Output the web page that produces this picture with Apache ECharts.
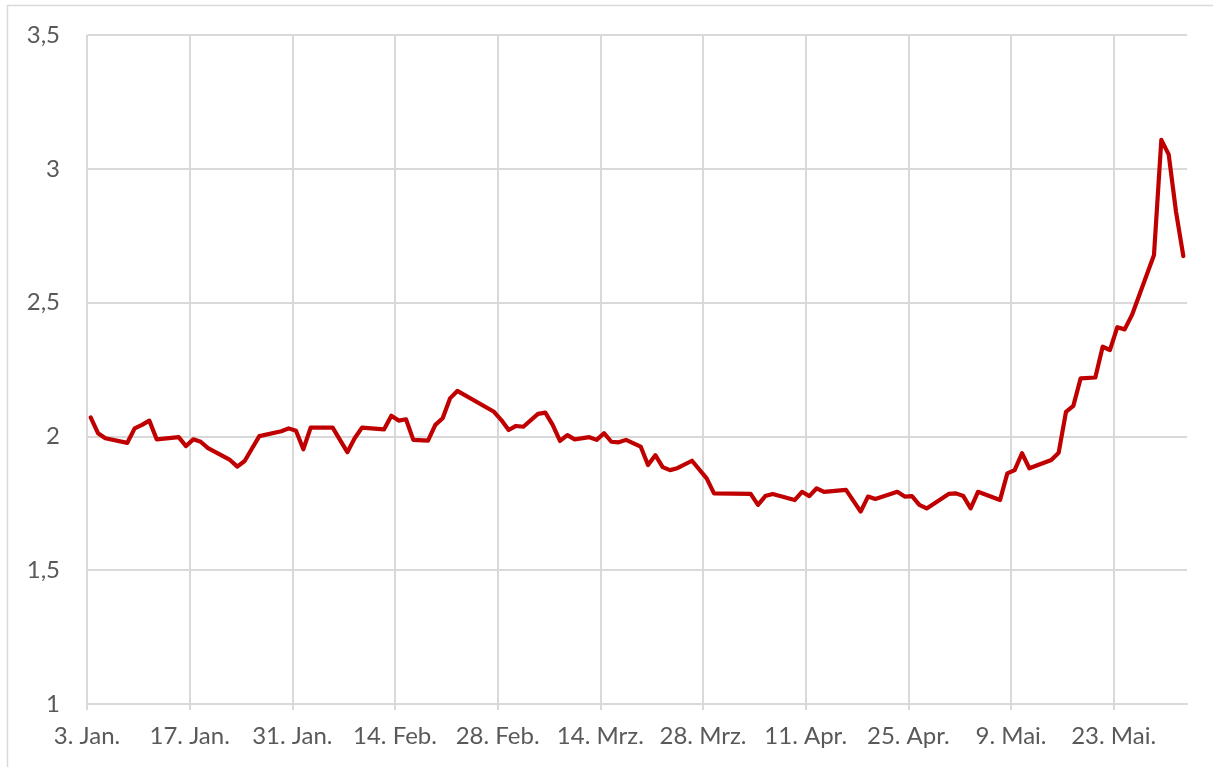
<!DOCTYPE html>
<html>
<head>
<meta charset="utf-8">
<script src="https://cdn.jsdelivr.net/npm/echarts@6/dist/echarts.min.js"></script>
<style>
html,body{margin:0;padding:0;background:#fff;}
#chart{width:1213px;height:767px;}
</style>
</head>
<body>
<div id="chart"></div>
<script>
// Dates (2018) of the data points
const dates = [
 '2018-01-03','2018-01-04','2018-01-05','2018-01-08','2018-01-09','2018-01-10','2018-01-11','2018-01-12',
 '2018-01-15','2018-01-16','2018-01-17','2018-01-18','2018-01-19','2018-01-22','2018-01-23','2018-01-24',
 '2018-01-25','2018-01-26','2018-01-29','2018-01-30','2018-01-31','2018-02-01','2018-02-02','2018-02-05',
 '2018-02-06','2018-02-07','2018-02-08','2018-02-09','2018-02-12','2018-02-13','2018-02-14','2018-02-15',
 '2018-02-16','2018-02-18','2018-02-19','2018-02-20','2018-02-21','2018-02-22','2018-02-27','2018-02-28',
 '2018-03-01','2018-03-02','2018-03-03','2018-03-05','2018-03-06','2018-03-07','2018-03-08','2018-03-09',
 '2018-03-10','2018-03-12','2018-03-13','2018-03-14','2018-03-15','2018-03-16','2018-03-17','2018-03-19',
 '2018-03-20','2018-03-21','2018-03-22','2018-03-23','2018-03-24','2018-03-26','2018-03-28','2018-03-29',
 '2018-04-03','2018-04-04','2018-04-05','2018-04-06','2018-04-09','2018-04-10','2018-04-11','2018-04-12',
 '2018-04-13','2018-04-16','2018-04-18','2018-04-19','2018-04-20','2018-04-23','2018-04-24','2018-04-25',
 '2018-04-26','2018-04-27','2018-04-30','2018-05-01','2018-05-02','2018-05-03','2018-05-04','2018-05-07',
 '2018-05-08','2018-05-09','2018-05-10','2018-05-11','2018-05-14','2018-05-15','2018-05-16','2018-05-17',
 '2018-05-18','2018-05-20','2018-05-21','2018-05-22','2018-05-23','2018-05-24','2018-05-25','2018-05-28',
 '2018-05-29','2018-05-30','2018-05-31','2018-06-01'
];
// Values (yield, %)
const values = [
 2.071,2.012,1.993,1.976,2.030,2.043,2.059,1.989,
 1.997,1.964,1.989,1.980,1.956,1.912,1.887,1.908,
 1.955,2.001,2.019,2.030,2.021,1.952,2.033,2.033,
 1.987,1.941,1.993,2.033,2.026,2.077,2.059,2.064,
 1.987,1.984,2.043,2.068,2.142,2.170,2.092,2.061,
 2.024,2.039,2.036,2.084,2.089,2.043,1.983,2.005,
 1.989,1.997,1.987,2.012,1.980,1.978,1.987,1.962,
 1.893,1.930,1.885,1.874,1.881,1.909,1.843,1.787,
 1.785,1.744,1.777,1.785,1.762,1.793,1.777,1.806,
 1.793,1.800,1.719,1.775,1.766,1.793,1.775,1.777,
 1.744,1.731,1.785,1.787,1.777,1.731,1.793,1.762,
 1.862,1.874,1.937,1.881,1.912,1.939,2.092,2.114,
 2.217,2.220,2.335,2.323,2.408,2.400,2.454,2.678,
 3.108,3.054,2.840,2.674
];
// X tick labels (every 14 days from 3 Jan)
const xTickLabels = ['3. Jan.','17. Jan.','31. Jan.','14. Feb.','28. Feb.','14. Mrz.','28. Mrz.','11. Apr.','25. Apr.','9. Mai.','23. Mai.'];
// Y tick values
const yTicks = [1, 1.5, 2, 2.5, 3, 3.5];

const startDay = Date.UTC(2018, 0, 3);
const DAY = 86400000;
const seriesData = dates.map((d, i) => {
  const p = d.split('-').map(Number);
  const off = (Date.UTC(p[0], p[1] - 1, p[2]) - startDay) / DAY + 0.5;
  return [off, values[i]];
});

const chart = echarts.init(document.getElementById('chart'));
const gridColor = '#d9d9d9';
const labelColor = '#595959';
const fontFamily = "Lato, 'Open Sans', sans-serif";

chart.setOption({
  animation: false,
  backgroundColor: '#ffffff',
  graphic: [{
    type: 'rect',
    shape: { x: 7.5, y: 5.5, width: 1400, height: 900 },
    style: { fill: 'none', stroke: gridColor, lineWidth: 1.5 },
    silent: true
  }],
  grid: { left: 87, right: 26, top: 35, bottom: 63, containLabel: false },
  xAxis: {
    type: 'value',
    min: 0,
    max: 150,
    interval: 14,
    axisLine: { show: true, lineStyle: { color: gridColor, width: 2 } },
    axisTick: { show: true, length: 6, lineStyle: { color: gridColor, width: 2 } },
    splitLine: { show: true, showMinLine: true, showMaxLine: false, lineStyle: { color: gridColor, width: 2 } },
    axisLabel: {
      color: labelColor,
      fontFamily: fontFamily,
      fontSize: 24,
      margin: 20,
      showMaxLabel: false,
      formatter: function (v) {
        const k = Math.round(v / 14);
        return (Math.abs(v - k * 14) < 1e-6 && xTickLabels[k]) ? xTickLabels[k] : '';
      }
    }
  },
  yAxis: {
    type: 'value',
    min: yTicks[0],
    max: yTicks[yTicks.length - 1],
    interval: 0.5,
    axisLine: { show: false },
    axisTick: { show: false },
    splitLine: { show: true, lineStyle: { color: gridColor, width: 2 } },
    axisLabel: {
      color: labelColor,
      fontFamily: fontFamily,
      fontSize: 24,
      margin: 27,
      formatter: function (v) { return String(v).replace('.', ','); }
    }
  },
  series: [{
    type: 'line',
    data: seriesData,
    showSymbol: false,
    symbol: 'none',
    lineStyle: { color: '#c00000', width: 4.2, join: 'round', cap: 'round' },
    itemStyle: { color: '#c00000' }
  }]
});
</script>
</body>
</html>
